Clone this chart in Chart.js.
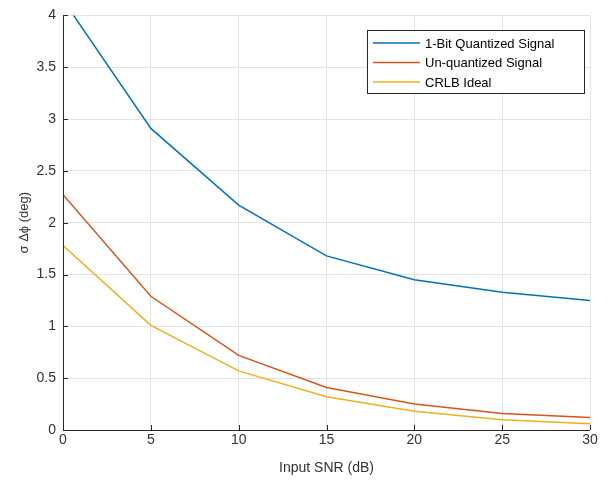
<!DOCTYPE html>
<html>
<head>
<meta charset="utf-8">
<script src="https://cdn.jsdelivr.net/npm/chart.js@4"></script>
<style>
  html, body { margin:0; padding:0; background:#fff; }
  #wrap { width:610px; height:481px; }
</style>
</head>
<body>
<div id="wrap"><canvas id="grafico" width="610" height="481"></canvas></div>
<script>
// dados
const snr = [0, 5, 10, 15, 20, 25, 30];
const quantizado1bit = [4.15, 2.91, 2.17, 1.68, 1.45, 1.33, 1.25];
const naoQuantizado = [2.27, 1.29, 0.72, 0.41, 0.25, 0.16, 0.12];
const crlbIdeal = [1.78, 1.01, 0.57, 0.32, 0.18, 0.10, 0.06];
const nomes = ["1-Bit Quantized Signal", "Un-quantized Signal", "CRLB Ideal"];
const cores = ["#0072BD", "#D95319", "#EDB120"];

const fonte = "'Liberation Sans', Arial, sans-serif";

function pontos(vals){
    return snr.map((x, i) => ({x: x, y: vals[i]}));
}

// eixos e ticks para dentro, estilo matlab
const eixos = {
    id: "eixos",
    afterDraw(chart){
        const ctx = chart.ctx;
        const a = chart.chartArea;
        const sx = chart.scales.x, sy = chart.scales.y;
        ctx.save();
        ctx.strokeStyle = "#262626";
        ctx.lineWidth = 1;
        ctx.beginPath();
        ctx.moveTo(a.left + 0.5, a.top);
        ctx.lineTo(a.left + 0.5, a.bottom + 0.5);
        ctx.lineTo(a.right, a.bottom + 0.5);
        sx.ticks.forEach(t => {
            const px = Math.round(sx.getPixelForValue(t.value)) + 0.5;
            ctx.moveTo(px, a.bottom);
            ctx.lineTo(px, a.bottom - 5);
        });
        sy.ticks.forEach(t => {
            const py = Math.round(sy.getPixelForValue(t.value)) + 0.5;
            ctx.moveTo(a.left, py);
            ctx.lineTo(a.left + 5, py);
        });
        ctx.stroke();
        ctx.restore();
    }
};

// legenda com caixa dentro da área do gráfico
const legenda = {
    id: "legenda",
    afterDraw(chart){
        const ctx = chart.ctx;
        const x0 = 367, y0 = 30, w = 217, h = 63;
        ctx.save();
        ctx.fillStyle = "#fff";
        ctx.fillRect(x0, y0, w, h);
        ctx.strokeStyle = "#262626";
        ctx.lineWidth = 1;
        ctx.strokeRect(x0 + 0.5, y0 + 0.5, w, h);
        ctx.font = "13px " + fonte;
        ctx.textBaseline = "middle";
        chart.data.datasets.forEach((ds, i) => {
            const y = y0 + 13 + i * 19.5;
            ctx.strokeStyle = ds.borderColor;
            ctx.lineWidth = 1.5;
            ctx.beginPath();
            ctx.moveTo(x0 + 6, y);
            ctx.lineTo(x0 + 53, y);
            ctx.stroke();
            ctx.fillStyle = "#000";
            ctx.fillText(ds.label, x0 + 58, y + 1);
        });
        ctx.restore();
    }
};

const series = [quantizado1bit, naoQuantizado, crlbIdeal];

new Chart(document.getElementById("grafico"), {
    type: "line",
    data: {
        datasets: series.map((s, i) => ({
            label: nomes[i],
            data: pontos(s),
            borderColor: cores[i],
            backgroundColor: cores[i],
            borderWidth: 1.5,
            pointRadius: 0,
            tension: 0,
            fill: false
        }))
    },
    options: {
        responsive: false,
        animation: false,
        layout: { padding: { top: 14, right: 20, left: 13, bottom: 0 } },
        plugins: {
            legend: { display: false },
            tooltip: { enabled: false }
        },
        scales: {
            x: {
                type: "linear",
                min: 0, max: 30,
                ticks: { stepSize: 5, color: "#333", font: { family: fonte, size: 14 }, padding: 2,
                         callback: v => String(v) },
                grid: { color: "#e3e3e3", drawTicks: false },
                border: { display: false },
                title: { display: true, text: "Input SNR (dB)", color: "#333", font: { family: fonte, size: 14 }, padding: { top: 4 } },
                afterFit(s){ s.height = 51; }
            },
            y: {
                min: 0, max: 4,
                ticks: { stepSize: 0.5, color: "#333", font: { family: fonte, size: 14 }, padding: 7,
                         callback: v => String(v) },
                grid: { color: "#e3e3e3", drawTicks: false },
                border: { display: false },
                title: { display: true, text: "σ Δϕ (deg)", color: "#333", font: { family: fonte, size: 13 }, padding: { bottom: 0 } },
                afterFit(s){ s.width = 50; }
            }
        }
    },
    plugins: [eixos, legenda]
});
</script>
</body>
</html>
